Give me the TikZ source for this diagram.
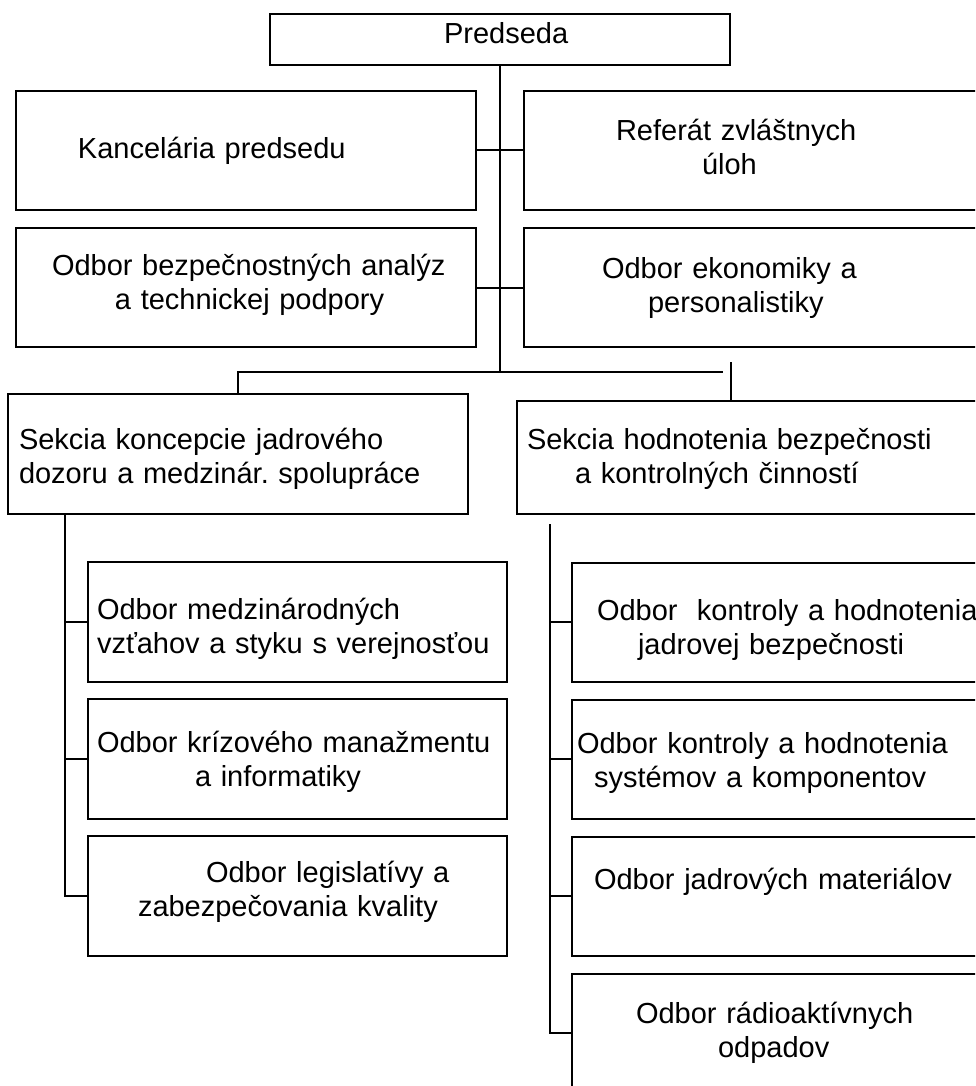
\documentclass[tikz,border=0pt]{standalone}
\usepackage{fontspec}
\setmainfont{Liberation Sans}
\frenchspacing
\usetikzlibrary{shapes}
\tikzstyle{unit} = [rectangle, draw=black, line width=2pt, inner xsep=0pt, inner ysep=0pt, align=left, font=\fontsize{29}{34}\selectfont]
\tikzstyle{oneline} = [text depth=6pt]
\tikzstyle{twoline} = [text depth=40pt]
\tikzstyle{leftsub} = [unit, twoline, text width=419pt, minimum height=120pt]
\tikzstyle{rightsub} = [unit, twoline, text width=418pt, minimum height=119pt]
\tikzstyle{link} = [line width=2pt]

\begin{document}
\begin{tikzpicture}[x=1pt, y=-1pt, node distance=137pt]
        \useasboundingbox (0,0) rectangle (975,1086);
        \clip (0,0) rectangle (975,1086);
        \node (pred) [unit, oneline, text height=15pt, text width=460pt, minimum height=51pt] at (500,39.5) {\hspace*{174pt}Predseda};
        \node (kanc) [unit, oneline, text height=23pt, text width=460pt, minimum height=119pt] at (246,150.5) {\hspace*{62pt}Kancelária predsedu};
        \node (ref) [unit, twoline, text height=21pt, text width=466pt, minimum height=119pt] at (757,150.5) {\hspace*{92pt}Referát zvláštnych\\\hspace*{178pt}úloh};
        \node (obez) [unit, twoline, text height=15pt, text width=460pt, minimum height=119pt] at (246,287.5) {\hspace*{36pt}Odbor bezpečnostných analýz\\\hspace*{99pt}a technickej podpory};
        \node (oeko) [unit, twoline, text height=21pt, text width=466pt, minimum height=119pt] at (757,287.5) {\hspace*{78pt}Odbor ekonomiky a\\\hspace*{124pt}personalistiky};
        \node (skon) [unit, twoline, text height=30pt, text width=460.5pt, minimum height=120pt] at (237.75,454) {\hspace*{11.5pt}Sekcia koncepcie jadrového\\\hspace*{11.5pt}dozoru a medzinár. spolupráce};
        \node (shod) [unit, twoline, text height=23pt, text width=473pt, minimum height=113pt] at (753.5,457.5) {\hspace*{10pt}Sekcia hodnotenia bezpečnosti\\\hspace*{58pt}a kontrolných činností};
        % left section
        \node (ls1) [leftsub, text height=34pt] at (297.5,622) {\hspace*{9pt}Odbor medzinárodných\\\hspace*{9pt}vzťahov a styku s verejnosťou};
        \node (ls2) [leftsub, text height=26pt, below of=ls1] {\hspace*{9pt}Odbor krízového manažmentu\\\hspace*{107pt}a informatiky};
        \node (ls3) [leftsub, text height=12pt, below of=ls2] {\hspace*{118pt}Odbor legislatívy a\\\hspace*{50pt}zabezpečovania kvality};
        % right section
        \node (rs1) [rightsub, text height=36pt] at (781,622) {\hspace*{25pt}Odbor~ kontroly a hodnotenia\\\hspace*{66pt}jadrovej bezpečnosti};
        \node (rs2) [rightsub, text height=29pt, below of=rs1] {\hspace*{5pt}Odbor kontroly a hodnotenia\\\hspace*{22pt}systémov a komponentov};
        \node (rs3) [rightsub, text height=26pt, below of=rs2] {\hspace*{22pt}Odbor jadrových materiálov};
        \node (rs4) [rightsub, text height=20pt, below of=rs3] {\hspace*{64pt}Odbor rádioaktívnych\\\hspace*{146pt}odpadov};
        \coordinate (bus) at (500,372);
        \coordinate (busend) at (723,372);
        \coordinate (tick) at (731,362);
        \coordinate (ltop) at (65,514);
        \coordinate (rtop) at (550,524);
        \draw [link] (pred.south) -- (bus);
        \draw [link] (kanc.east) -- (ref.west);
        \draw [link] (obez.east) -- (oeko.west);
        \draw [link] (skon.north) |- (busend);
        \draw [link] (tick) -- (tick |- shod.north);
        \draw [link] (ltop) |- (ls3.west);
        \draw [link] (ls1.west) -- (ls1.west -| ltop);
        \draw [link] (ls2.west) -- (ls2.west -| ltop);
        \draw [link] (rtop) |- (rs4.west);
        \draw [link] (rs1.west) -- (rs1.west -| rtop);
        \draw [link] (rs2.west) -- (rs2.west -| rtop);
        \draw [link] (rs3.west) -- (rs3.west -| rtop);
\end{tikzpicture}
\end{document}
